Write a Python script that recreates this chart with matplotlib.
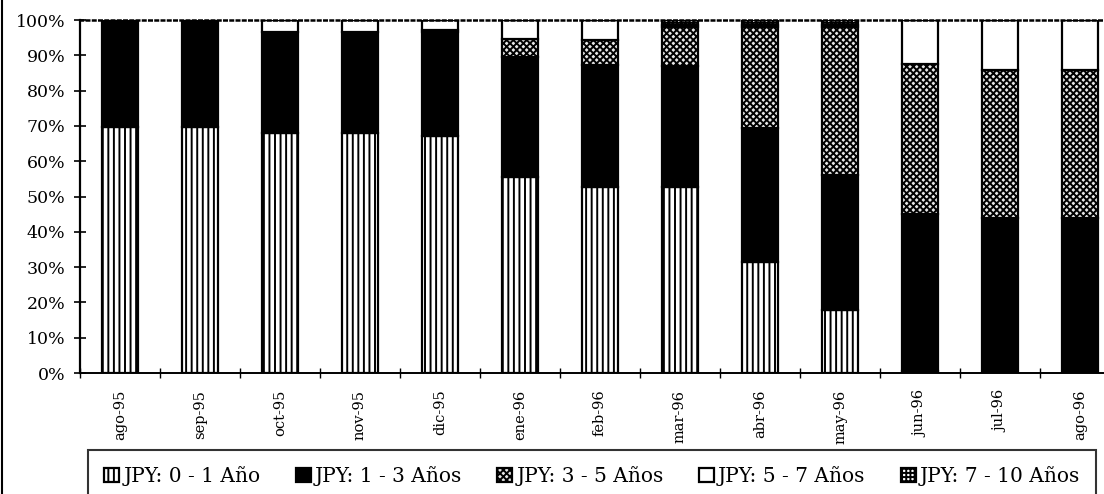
import matplotlib.pyplot as plt
import matplotlib.lines as mlines
import numpy as np

plt.rcParams['font.family'] = ['DejaVu Serif']
plt.rcParams['hatch.linewidth'] = 1.4

# months on the x axis
months = ['ago-95', 'sep-95', 'oct-95', 'nov-95', 'dic-95', 'ene-96', 'feb-96',
          'mar-96', 'abr-96', 'may-96', 'jun-96', 'jul-96', 'ago-96']

# share of each maturity bucket (%)
jpy_0_1 = [69.7, 69.7, 68.0, 68.0, 67.0, 55.5, 52.7, 52.7, 31.4, 17.8, 0.5, 0.0, 0.0]
jpy_1_3 = [30.3, 30.3, 28.6, 28.6, 29.5, 34.0, 34.6, 34.3, 38.0, 38.2, 44.5, 44.0, 44.0]
jpy_3_5 = [0.0, 0.0, 0.0, 0.0, 0.7, 5.0, 7.0, 11.0, 28.6, 42.0, 42.5, 41.8, 41.8]
jpy_5_7 = [0.0, 0.0, 3.4, 3.4, 2.8, 5.5, 5.7, 0.5, 0.5, 0.5, 12.5, 14.2, 14.2]
jpy_7_10 = [0.0, 0.0, 0.0, 0.0, 0.0, 0.0, 0.0, 1.5, 1.5, 1.5, 0.0, 0.0, 0.0]

series = [
    ('JPY: 0 - 1 Año', jpy_0_1, 'white', '|||'),
    ('JPY: 1 - 3 Años', jpy_1_3, 'black', None),
    ('JPY: 3 - 5 Años', jpy_3_5, '#e6e6e6', 'xxxxx'),
    ('JPY: 5 - 7 Años', jpy_5_7, 'white', None),
    ('JPY: 7 - 10 Años', jpy_7_10, 'white', '++++'),
]

fig = plt.figure(figsize=(11.04, 4.94), dpi=100)
# the plot area runs past the right edge of the picture, as in the scan
ax = fig.add_axes([80 / 1104, 1 - 373 / 494, 1040 / 1104, 353 / 494])

x = np.arange(len(months))
bottom = np.zeros(len(months))
for name, vals, fc, hatch in series:
    vals = np.array(vals)
    ax.bar(x, vals, width=0.44, bottom=bottom, color=fc, edgecolor='black',
           linewidth=1.6, hatch=hatch, label=name)
    bottom += vals

ax.set_xlim(-0.5, len(months) - 0.5)
ax.set_ylim(0, 100)
ax.set_yticks(np.arange(0, 101, 10))
ax.set_yticklabels([f'{v}%' for v in range(0, 101, 10)], fontsize=12.5)
ax.tick_params(axis='y', direction='inout', length=9, width=1.2, pad=6)

ax.set_xticks(x)
ax.set_xticklabels(months, rotation=90, fontsize=10.5)
ax.tick_params(axis='x', length=0, pad=12)
ax.set_xticks(np.arange(-0.5, len(months), 1), minor=True)
ax.tick_params(axis='x', which='minor', direction='inout', length=7, width=1)

ax.spines['right'].set_visible(False)
ax.spines['top'].set_linestyle((0, (1, 1.5)))
ax.spines['top'].set_linewidth(1.8)
ax.spines['left'].set_linewidth(1.6)
ax.spines['bottom'].set_linewidth(1.4)

# border of the chart on the left
fig.add_artist(mlines.Line2D([2 / 1104, 2 / 1104], [0, 1], color='black', lw=1.5))

leg = fig.legend(loc='upper left', bbox_to_anchor=(88 / 1104, 1 - 450 / 494),
                 ncol=5, fontsize=14.5, frameon=True, fancybox=False,
                 edgecolor='black', handlelength=0.75, handleheight=0.75,
                 handletextpad=0.2, columnspacing=1.75, borderpad=0.8,
                 borderaxespad=0)
leg.get_frame().set_linewidth(1.5)

fig.savefig('out.png', dpi=100)
